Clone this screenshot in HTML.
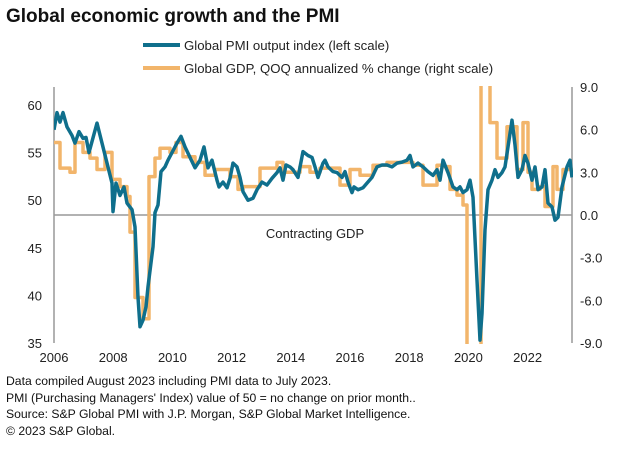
<!DOCTYPE html>
<html><head><meta charset="utf-8"><style>
body{margin:0;background:#fff;font-family:"Liberation Sans",Arial,sans-serif}
</style></head><body>
<svg width="644" height="448" xmlns="http://www.w3.org/2000/svg" font-family="Liberation Sans, Arial, sans-serif">
<text x="6" y="22" font-size="19" font-weight="bold" fill="#111">Global economic growth and the PMI</text>
<g>
<line x1="143" y1="45" x2="180" y2="45" stroke="#0f6f8c" stroke-width="4"/>
<text x="184" y="50" font-size="13.2" fill="#222">Global PMI output index (left scale)</text>
<line x1="143" y1="68" x2="180" y2="68" stroke="#f2b56b" stroke-width="4"/>
<text x="184" y="73" font-size="13.2" fill="#222">Global GDP, QOQ annualized % change (right scale)</text>
</g>
<defs><clipPath id="pc"><rect x="54" y="86" width="519" height="258"/></clipPath></defs>
<g id="axes"></g>
<g id="series" clip-path="url(#pc)"></g>
<text x="315" y="238" font-size="13" text-anchor="middle" fill="#222">Contracting GDP</text>
<g font-size="12.2" fill="#111">
<text x="6" y="385">Data compiled August 2023 including PMI data to July 2023.</text>
<text x="6" y="402">PMI (Purchasing Managers' Index) value of 50 = no change on prior month..</text>
<text x="6" y="418">Source: S&amp;P Global PMI with J.P. Morgan, S&amp;P Global Market Intelligence.</text>
<text x="6" y="435">© 2023 S&amp;P Global.</text>
</g>
</svg>
<script>
const pmiPx=[54,57,60,63,67,72,75,79,83,86,89,97,102,107,112,113,116,120,124,127,132,135,138,140,143,146,148,153,155,158,161,165,168,173,177,181,185,190,195,200,204,208,212,217,219,223,227,230,233,237,240,243,248,253,257,262,267,272,277,280,283,286,290,293,298,303,308,312,315,318,323,325,328,333,337,342,345,348,352,354,358,363,367,372,377,382,387,392,397,402,407,410,413,418,423,428,433,437,440,443,448,453,457,460,463,467,470,473,477,480,482,485,488,492,495,498,502,505,508,512,515,518,522,525,528,532,535,538,542,545,548,552,555,558,562,567,570,572];
const pmiYears=pmiPx.map(p=>2006+(p-54)/29.6);
const pmiValues=[57.4,59.2,58.2,59.2,57.7,56.8,56,57.2,56.5,56.6,55,58.1,56,53.9,51.8,48.8,51.8,50.5,51.4,49.7,49,47.2,39.8,36.7,37.4,38.8,40.9,45.1,48.7,49.5,53,53.5,54.2,55.2,56,56.7,55.6,54.5,53.4,54.2,55.6,53.4,54.2,52.1,51.4,51.9,51.3,52.3,53.9,53.5,52.4,50.9,50,50.2,51.1,51.9,51.6,52.3,52.9,53.4,52.1,53.7,53.5,53.2,52.4,55.1,54.7,54.5,53.5,52.4,53.9,54.2,53.5,53,52.9,52.4,53,51.9,50.8,51.4,51.1,51.3,51.8,52.4,53.5,53.7,53.7,53.5,53.9,54,54.2,54.7,53.5,53.9,53.5,53,52.6,53.2,52.1,54.2,52.9,51.4,51.1,51.4,50.8,51.1,52.1,50.3,41.6,35.3,38.1,46.9,51.1,52.1,53.2,52.4,52.9,53.5,55.6,58.4,55.8,52.4,53.2,54.7,53.9,52.1,53.5,51.1,51.4,53.2,49.7,49.3,47.9,48.2,51.4,53.5,54.2,52.4,51.4];
const gdpStartPx=[54,60,70,75,83,90,97,105,112,120,127,130,135,143,149,155,160,170,176,183,195,205,215,230,238,243,260,277,283,300,310,320,340,350,360,373,387,413,423,437,443,450,457,463,467,481,490,497,507,517,523,528,532,540,545,553,557,563];
const gdpYears=gdpStartPx.map(p=>2006+(p-54)/29.6);
const gdpValues=[5.1,3.3,3.0,5.1,4.4,4.0,3.2,4.4,2.5,2.0,1.3,-1.2,-5.8,-7.3,2.7,4.0,4.7,4.4,5.1,4.1,3.7,2.8,3.2,2.7,1.8,2.0,3.3,3.7,3.0,3.4,3.0,3.3,2.1,3.2,2.8,3.5,3.7,3.5,2.1,3.5,3.4,1.8,1.4,0.7,-14,35,6.5,4.0,6.2,3.2,6.5,3.0,1.8,2.0,0.6,3.4,1.8,3.2];
const gdpEnd=2023.58;
const leftTicks=[35,40,45,50,55,60];
const rightTicks=[-9,-6,-3,0,3,6,9];
const xTicks=[2006,2008,2010,2012,2014,2016,2018,2020,2022];

const X=y=>54+(y-2006)*29.6;
const YL=v=>105+(60-v)*9.52;
const YR=v=>215-v*14.222;
const NS="http://www.w3.org/2000/svg";
function mk(tag,attrs,parent){const e=document.createElementNS(NS,tag);for(const k in attrs)e.setAttribute(k,attrs[k]);parent.appendChild(e);return e;}
const axes=document.getElementById('axes'), series=document.getElementById('series');

let l=mk('line',{x1:54,y1:87,x2:54,y2:343,stroke:'#999','stroke-width':1.5},axes);


l=mk('line',{x1:572,y1:87,x2:572,y2:343,stroke:'#999','stroke-width':1.5},axes);


l=mk('line',{x1:54,y1:YR(0),x2:572,y2:YR(0),stroke:'#999','stroke-width':1.5},axes);


leftTicks.forEach(v=>{const t=mk('text',{x:42,y:YL(v)+5,'font-size':13,'text-anchor':'end',fill:'#222'},axes);t.textContent=v;

});
rightTicks.forEach(v=>{const t=mk('text',{x:580,y:YR(v)+5,'font-size':13,fill:'#222'},axes);t.textContent=v.toFixed(1);

});
xTicks.forEach(v=>{const t=mk('text',{x:X(v),y:362,'font-size':13,'text-anchor':'middle',fill:'#222'},axes);t.textContent=v;

});

let d='';
gdpValues.forEach((v,i)=>{const x0=X(gdpYears[i]),x1=X(i+1<gdpYears.length?gdpYears[i+1]:gdpEnd),y=YR(v);d+=(i?'L':'M')+x0.toFixed(1)+' '+y.toFixed(1)+'L'+x1.toFixed(1)+' '+y.toFixed(1);});
let p=mk('path',{d:d,fill:'none',stroke:'#f2b56b','stroke-width':3.5,'stroke-linejoin':'round'},series);


d='';
pmiValues.forEach((v,i)=>{d+=(i?'L':'M')+X(pmiYears[i]).toFixed(1)+' '+YL(v).toFixed(1);});
p=mk('path',{d:d,fill:'none',stroke:'#0f6f8c','stroke-width':3.5,'stroke-linejoin':'round'},series);


</script>
</body></html>
